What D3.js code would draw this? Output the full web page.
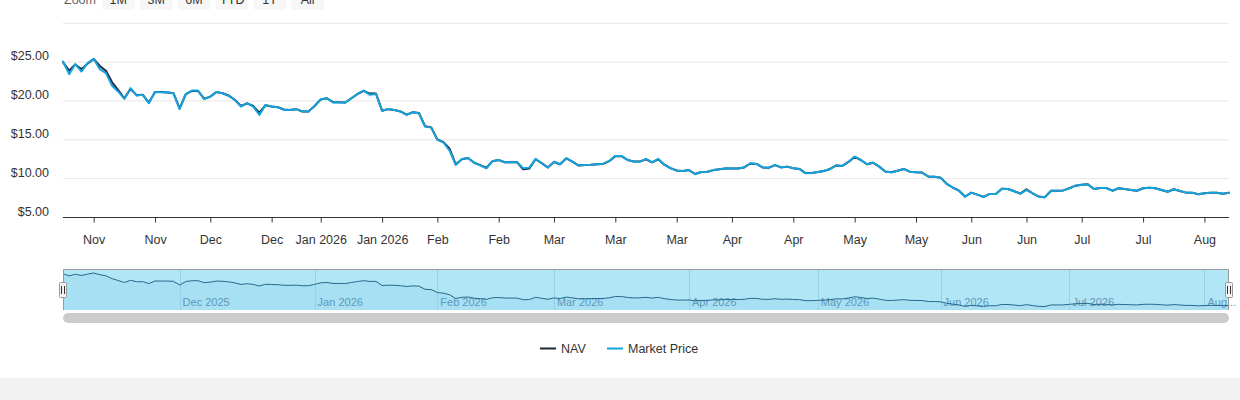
<!DOCTYPE html>
<html><head><meta charset="utf-8">
<script src="https://cdn.jsdelivr.net/npm/d3@7"></script>
<style>
body{margin:0;background:#fff;font-family:"Liberation Sans",Arial,Helvetica,sans-serif;}
svg{display:block;}
</style></head><body>
<svg id="c" width="1240" height="400"></svg>
<script>
// ---- data ----
const startDate = "2025-11-03";
const endDate = "2026-08-07";
const holidays = ["2025-11-27","2025-12-25","2026-01-01","2026-01-19","2026-02-16","2026-04-03","2026-05-25","2026-06-19","2026-07-03"];

const marketPrice = [
25.08,23.45,24.74,23.79,24.87,25.43,24.10,23.58,21.95,21.20,
20.27,21.65,20.70,20.79,19.70,21.17,21.13,21.13,21.00,18.94,
20.87,21.34,21.34,20.23,20.57,21.17,21.00,20.66,20.14,19.28,
19.72,19.28,18.21,19.50,19.28,19.20,18.85,18.85,18.98,18.63,
18.63,19.37,20.23,20.36,19.80,19.84,19.80,20.36,20.90,21.34,
20.79,20.90,18.72,18.98,18.85,18.63,18.21,18.55,18.42,16.70,
16.57,14.99,14.64,13.61,11.77,12.54,12.67,12.06,11.72,11.34,
12.28,12.41,12.11,12.11,12.11,11.34,11.42,12.54,11.98,11.42,
12.19,11.85,12.63,12.19,11.68,11.77,11.80,11.85,11.89,12.28,
12.93,12.93,12.41,12.19,12.19,12.54,12.11,12.54,11.77,11.34,
11.03,10.99,11.12,10.57,10.86,10.90,11.12,11.21,11.34,11.30,
11.30,11.47,11.98,11.89,11.47,11.40,11.77,11.47,11.55,11.34,
11.25,10.70,10.74,10.86,10.99,11.25,11.72,11.64,12.19,12.84,
12.41,11.85,12.06,11.55,10.90,10.82,11.03,11.25,10.90,10.82,
10.78,10.26,10.24,10.13,9.32,8.84,8.45,7.68,8.20,7.94,
7.64,8.03,8.03,8.71,8.67,8.38,8.07,8.54,8.12,7.68,
7.60,8.45,8.45,8.49,8.76,9.10,9.23,9.27,8.67,8.80,
8.80,8.45,8.76,8.67,8.54,8.45,8.76,8.84,8.76,8.54,
8.32,8.63,8.41,8.20,8.20,7.99,8.12,8.20,8.20,8.07,
8.20];

const nav = [
25.00,23.90,24.70,24.10,24.80,25.40,24.50,23.90,22.40,21.40,
20.35,21.55,20.75,20.80,19.80,21.15,21.15,21.10,21.00,19.05,
20.85,21.30,21.30,20.30,20.55,21.15,21.00,20.70,20.15,19.35,
19.70,19.35,18.50,19.45,19.30,19.20,18.90,18.85,18.95,18.65,
18.65,19.35,20.20,20.35,19.85,19.85,19.80,20.35,20.90,21.30,
20.95,20.95,18.75,18.95,18.85,18.65,18.25,18.55,18.45,16.75,
16.60,15.05,14.70,13.85,11.85,12.50,12.65,12.05,11.75,11.40,
12.25,12.40,12.10,12.10,12.10,11.20,11.30,12.50,12.00,11.45,
12.15,11.85,12.60,12.20,11.70,11.77,11.80,11.85,11.90,12.25,
12.90,12.90,12.40,12.20,12.20,12.50,12.10,12.50,11.80,11.35,
11.05,11.00,11.10,10.60,10.85,10.90,11.10,11.20,11.30,11.30,
11.30,11.45,11.95,11.90,11.45,11.40,11.75,11.45,11.55,11.35,
11.25,10.72,10.74,10.86,10.99,11.25,11.70,11.64,12.15,12.80,
12.40,11.85,12.05,11.55,10.92,10.82,11.03,11.25,10.90,10.82,
10.78,10.28,10.24,10.13,9.34,8.86,8.45,7.70,8.20,7.94,
7.66,8.03,8.03,8.70,8.67,8.38,8.07,8.62,8.12,7.70,
7.62,8.45,8.45,8.49,8.76,9.10,9.22,9.27,8.67,8.80,
8.80,8.45,8.76,8.67,8.54,8.45,8.76,8.84,8.76,8.54,
8.32,8.63,8.41,8.20,8.20,7.99,8.12,8.20,8.20,8.07,
8.20];

const yTicks = [5, 10, 15, 20, 25, 30];
const yTickLabels = ["$5.00","$10.00","$15.00","$20.00","$25.00",""];
const xTickDates = ["2025-11-10","2025-11-24","2025-12-08","2025-12-22","2026-01-05","2026-01-19","2026-02-02","2026-02-16","2026-03-02","2026-03-16","2026-03-30","2026-04-13","2026-04-27","2026-05-11","2026-05-25","2026-06-08","2026-06-22","2026-07-06","2026-07-20","2026-08-03"];
const xTickLabels = ["Nov","Nov","Dec","Dec","Jan 2026","Jan 2026","Feb","Feb","Mar","Mar","Mar","Apr","Apr","May","May","Jun","Jun","Jul","Jul","Aug"];
const navMonthDates = ["2025-12-01","2026-01-01","2026-02-01","2026-03-01","2026-04-01","2026-05-01","2026-06-01","2026-07-01","2026-08-01"];
const navMonthLabels = ["Dec 2025","Jan 2026","Feb 2026","Mar 2026","Apr 2026","May 2026","Jun 2026","Jul 2026","Aug..."];
const zoomButtons = ["1M","3M","6M","YTD","1Y","All"];
const seriesNames = ["NAV","Market Price"];
const seriesColors = ["#1c2936","#14a3de"];

// ---- trading-day categories (ordinal axis) ----
const parse = d3.utcParse("%Y-%m-%d"), fmt = d3.utcFormat("%Y-%m-%d");
const hol = new Set(holidays);
const days = d3.utcDay.range(parse(startDate), d3.utcDay.offset(parse(endDate),1))
  .filter(d => d.getUTCDay() !== 0 && d.getUTCDay() !== 6 && !hol.has(fmt(d)));
const idxOf = s => d3.bisectLeft(days, parse(s));

// ---- layout ----
const svg = d3.select("#c");
const L = 63, R = 1229;
const x = d3.scaleLinear().domain([0, days.length - 1]).range([L, R]);
const y = d3.scaleLinear().domain([5, 30]).range([217.5, 23.3]);

// zoom buttons (partly cut off at top)
svg.append("text").attr("x", 64).attr("y", 4).attr("fill", "#666").attr("font-size", 12.5).text("Zoom");
const bx = d3.scaleBand().domain(zoomButtons).range([102, 324]).paddingInner(0.14);
const btn = svg.append("g").selectAll("g").data(zoomButtons).join("g");
btn.append("rect").attr("x", d => bx(d)).attr("y", -12).attr("width", bx.bandwidth()).attr("height", 22).attr("rx", 2).attr("fill", "#f7f7f7");
btn.append("text").attr("x", d => bx(d) + bx.bandwidth()/2).attr("y", 4).attr("text-anchor", "middle").attr("fill", "#333").attr("font-size", 12.5).text(d => d);

// grid
svg.append("g").selectAll("line").data(yTicks.filter(t => t > 5)).join("line")
  .attr("x1", L).attr("x2", R).attr("y1", d => y(d)).attr("y2", d => y(d))
  .attr("stroke", "#e6e6e6").attr("stroke-width", 1);

// y labels
svg.append("g").selectAll("text").data(yTicks).join("text")
  .attr("x", 49).attr("y", d => y(d) - 2).attr("text-anchor", "end")
  .attr("fill", "#333").attr("font-size", 12.5).text((d, i) => yTickLabels[i]);

// x axis
const xTickIdx = xTickDates.map(idxOf);
const xAxis = d3.axisBottom(x).tickValues(xTickIdx).tickSize(5).tickPadding(0)
  .tickFormat((d, i) => xTickLabels[i]);
const gx = svg.append("g").attr("transform", "translate(0,217.5)").call(xAxis);
gx.select(".domain").attr("stroke", "#333").attr("d", `M${L},0H${R}`);
gx.selectAll(".tick line").attr("stroke", "#333");
gx.selectAll(".tick text").attr("fill", "#333").attr("font-size", 12.5)
  .attr("font-family", '"Liberation Sans",Arial,sans-serif').attr("dy", null).attr("y", 26);

// series
const series = [nav, marketPrice];
const line = d3.line().x((d, i) => x(i)).y(d => y(d));
svg.append("g").selectAll("path").data(series).join("path")
  .attr("d", line).attr("fill", "none").attr("stroke", (d, i) => seriesColors[i])
  .attr("stroke-width", 2).attr("stroke-linejoin", "round").attr("stroke-linecap", "round");

// ---- navigator ----
const NT = 269, NB = 310;
const ny = d3.scaleLinear().domain(d3.extent(nav)).range([306.5, 273]);
const ng = svg.append("g");
ng.append("rect").attr("x", L).attr("y", NT).attr("width", R - L).attr("height", NB - NT).attr("fill", "#b1e6f7");
ng.append("path").datum(nav)
  .attr("d", d3.area().x((d, i) => x(i)).y0(NB).y1(d => ny(d)))
  .attr("fill", "rgba(40,130,180,0.06)");
const navIdx = navMonthDates.map(idxOf);
ng.selectAll("line.g").data(navIdx).join("line")
  .attr("x1", d => Math.round(x(d)) + 0.5).attr("x2", d => Math.round(x(d)) + 0.5)
  .attr("y1", NT).attr("y2", NB).attr("stroke", "#97d1e6");
ng.selectAll("text").data(navIdx).join("text")
  .attr("x", d => x(d) + 3).attr("y", 306).attr("fill", "#5e98ba").attr("font-size", 11)
  .text((d, i) => navMonthLabels[i]);
ng.append("path").datum(nav)
  .attr("d", d3.line().x((d, i) => x(i)).y(d => ny(d)))
  .attr("fill", "none").attr("stroke", "#26698c").attr("stroke-width", 1);
ng.append("path").attr("d", `M${L+0.5},${NB}V${NT+0.5}H${R-0.5}V${NB}`)
  .attr("fill", "none").attr("stroke", "#999");
// handles
[L, R].forEach(hx => {
  const h = ng.append("g").attr("transform", `translate(${Math.round(hx)},282)`);
  h.append("rect").attr("x", -3.5).attr("y", 0.5).attr("width", 7).attr("height", 15).attr("rx", 1)
    .attr("fill", "#f2f2f2").attr("stroke", "#999");
  h.append("path").attr("d", "M-1.5,4V12M1.5,4V12").attr("stroke", "#333").attr("stroke-width", 1);
});
// scrollbar
ng.append("rect").attr("x", L).attr("y", 313).attr("width", R - L).attr("height", 10).attr("rx", 5).attr("fill", "#cccccc");

// ---- legend ----
const lg = svg.append("g");
const legX = [540, 607];
seriesNames.forEach((n, i) => {
  lg.append("line").attr("x1", legX[i]).attr("x2", legX[i] + 16).attr("y1", 348.5).attr("y2", 348.5)
    .attr("stroke", seriesColors[i]).attr("stroke-width", 2);
  lg.append("text").attr("x", legX[i] + 21).attr("y", 353).attr("fill", "#333").attr("font-size", 12.5).text(n);
});

// bottom band
svg.append("rect").attr("x", 0).attr("y", 378).attr("width", 1240).attr("height", 22).attr("fill", "#f2f2f2");
</script>
</body></html>
